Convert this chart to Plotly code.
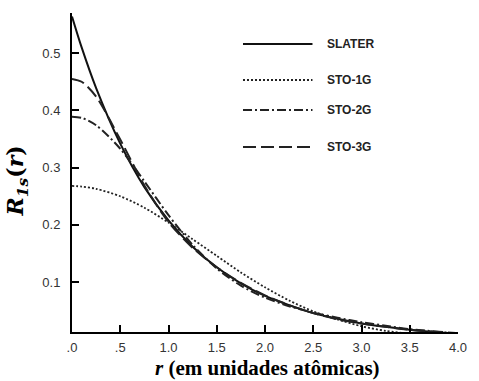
import plotly.graph_objects as go

# radius (atomic units)
r = [0.0, 0.1, 0.25, 0.5, 0.75, 1.0, 1.25, 1.5, 1.75, 2.0, 2.25, 2.5, 2.75, 3.0, 3.25, 3.5, 3.75, 4.0]

slater = [0.564, 0.510, 0.439, 0.342, 0.266, 0.208, 0.162, 0.126, 0.098, 0.076, 0.060, 0.046, 0.036, 0.028, 0.022, 0.017, 0.013, 0.010]
sto_1g = [0.268, 0.267, 0.263, 0.250, 0.230, 0.204, 0.175, 0.146, 0.117, 0.091, 0.068, 0.049, 0.035, 0.023, 0.015, 0.010, 0.006, 0.004]
sto_2g = [0.389, 0.387, 0.374, 0.333, 0.276, 0.217, 0.165, 0.124, 0.094, 0.073, 0.058, 0.047, 0.038, 0.030, 0.024, 0.018, 0.014, 0.010]
sto_3g = [0.455, 0.450, 0.424, 0.349, 0.269, 0.205, 0.160, 0.126, 0.099, 0.077, 0.060, 0.046, 0.035, 0.028, 0.022, 0.017, 0.014, 0.011]

series_names = ["SLATER", "STO-1G", "STO-2G", "STO-3G"]
series_values = [slater, sto_1g, sto_2g, sto_3g]
series_dash = ["solid", "2px,2px", "9px,3px,2px,3px", "13px,5px"]
series_width = [2, 1.8, 2, 2]
series_color = ["#111111", "#222222", "#222222", "#222222"]

x_tickvals = [0, 0.5, 1.0, 1.5, 2.0, 2.5, 3.0, 3.5, 4.0]
x_ticktext = [".0", ".5", "1.0", "1.5", "2.0", "2.5", "3.0", "3.5", "4.0"]
y_tickvals = [0.1, 0.2, 0.3, 0.4, 0.5]
y_ticktext = ["0.1", "0.2", "0.3", "0.4", "0.5"]

fig = go.Figure()
for name, vals, dash, w, c in zip(series_names, series_values, series_dash, series_width, series_color):
    fig.add_trace(go.Scatter(
        x=r, y=vals, mode="lines", name=name,
        line=dict(color=c, width=w, dash=dash, shape="spline", smoothing=0.8),
        showlegend=False,
    ))

# hand-drawn style legend (inside the plot, top right)
legend_y = [0.903, 0.790, 0.696, 0.580]
shapes = []
annotations = []
for name, dash, w, c, ly in zip(series_names, series_dash, series_width, series_color, legend_y):
    shapes.append(dict(type="line", xref="paper", yref="paper", x0=0.443, x1=0.623, y0=ly, y1=ly,
                       line=dict(color=c, width=w, dash=dash)))
    annotations.append(dict(xref="paper", yref="paper", x=0.655, y=ly, xanchor="left", yanchor="middle",
                            text="<b>" + name + "</b>", showarrow=False,
                            font=dict(family="Liberation Sans, Arial, sans-serif", size=12, color="#222222")))

annotations.append(dict(xref="paper", yref="paper", x=0.506, y=-0.153, xanchor="center", yanchor="bottom",
                        text="<b><i>r</i> (em unidades atômicas)</b>", showarrow=False, borderpad=0,
                        font=dict(family="Liberation Serif, Times New Roman, serif", size=21, color="#000000")))
annotations.append(dict(xref="paper", yref="paper", x=-0.14, y=0.475, xanchor="center", yanchor="middle",
                        text="<b><i>R</i><sub><i>1s</i></sub>(<i>r</i>)</b>", showarrow=False, textangle=-90,
                        font=dict(family="DejaVu Serif, serif", size=22, color="#000000")))

axis_font = dict(family="Liberation Sans, Arial, sans-serif", size=13, color="#333333")

fig.update_layout(
    width=479, height=381,
    margin=dict(l=72, r=12, t=13, b=49),
    paper_bgcolor="white", plot_bgcolor="white",
    shapes=shapes, annotations=annotations,
    xaxis=dict(range=[0, 4.0], tickvals=x_tickvals, ticktext=x_ticktext,
               showline=True, linecolor="black", linewidth=2, showgrid=False, zeroline=False,
               ticks="inside", ticklen=7, tickwidth=1.5, tickcolor="black",
               tickfont=axis_font, ticklabelstandoff=2),
    yaxis=dict(range=[0.013, 0.570], tickvals=y_tickvals, ticktext=y_ticktext,
               showline=True, linecolor="black", linewidth=2, showgrid=False, zeroline=False,
               ticks="inside", ticklen=7, tickwidth=1.5, tickcolor="black",
               tickfont=axis_font, ticklabelstandoff=7),
)

fig.write_html("out.html", config={"displayModeBar": False},
               post_script="document.body.style.margin='0';document.body.style.overflow='hidden';")
